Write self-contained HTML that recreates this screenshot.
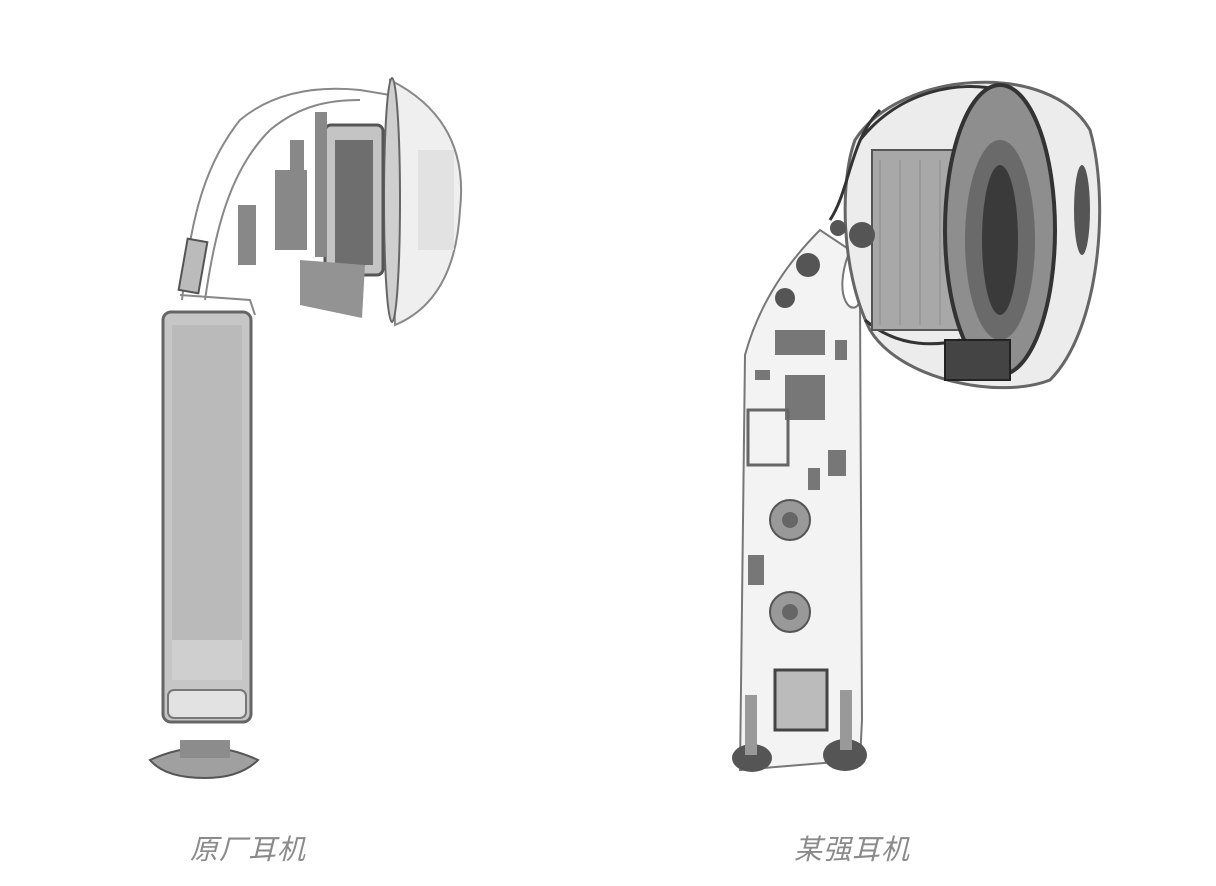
<!DOCTYPE html>
<html><head><meta charset="utf-8"><style>
html,body{margin:0;padding:0;background:#fff;width:1216px;height:886px;overflow:hidden}
.lbl{position:absolute;top:828px;font-family:"Liberation Sans","Noto Sans CJK SC",sans-serif;font-style:italic;font-size:28px;color:#8a8a8a;letter-spacing:1px}
</style></head><body>
<svg width="1216" height="886" style="position:absolute;left:0;top:0">
<!-- LEFT EARBUD -->
<g stroke="#888" fill="none" stroke-width="2">
<path d="M182 300 C190 230 200 170 240 120 C270 95 310 85 360 90 L390 95" />
<path d="M205 300 C215 230 230 170 270 130 C300 105 330 100 360 100" />
<path d="M180 295 L250 300 L255 315" />
</g>
<rect x="163" y="312" width="88" height="410" rx="8" fill="#c6c6c6" stroke="#666" stroke-width="3"/>
<rect x="172" y="325" width="70" height="350" fill="#bababa"/>
<rect x="172" y="640" width="70" height="40" fill="#cfcfcf"/>
<rect x="168" y="690" width="78" height="28" rx="6" fill="#e2e2e2" stroke="#777" stroke-width="2"/>
<path d="M150 760 Q205 735 258 760 Q240 778 205 778 Q165 778 150 760Z" fill="#a0a0a0" stroke="#555" stroke-width="2"/>
<rect x="180" y="740" width="50" height="18" fill="#8c8c8c"/>
<rect x="183" y="240" width="20" height="52" fill="#bbb" stroke="#555" stroke-width="2" transform="rotate(10 193 266)"/>
<!-- head left -->
<path d="M390 80 Q470 120 460 210 Q455 300 395 325 Z" fill="#efefef" stroke="#888" stroke-width="2"/>
<ellipse cx="392" cy="200" rx="8" ry="122" fill="#cfcfcf" stroke="#666" stroke-width="2"/>
<rect x="325" y="125" width="58" height="150" rx="6" fill="#c4c4c4" stroke="#555" stroke-width="3"/>
<rect x="335" y="140" width="38" height="125" fill="#6e6e6e"/>
<path d="M300 260 L365 265 L362 318 L300 305Z" fill="#939393"/>
<g fill="#888">
<rect x="275" y="170" width="32" height="80"/>
<rect x="315" y="112" width="12" height="145"/>
<rect x="238" y="205" width="18" height="60"/>
<rect x="290" y="140" width="14" height="30"/>
</g>
<rect x="418" y="150" width="36" height="100" fill="#e2e2e2"/>
<!-- RIGHT EARBUD -->
<path d="M745 355 C760 300 790 260 820 230 L850 250 C830 300 855 320 860 300 L862 720 L860 760 L740 770 Z" fill="#f3f3f3" stroke="#777" stroke-width="2"/>
<path d="M855 140 C900 70 1050 60 1090 130 C1110 200 1100 330 1050 380 C1000 400 900 380 870 330 C840 270 840 180 855 140Z" fill="#ececec" stroke="#666" stroke-width="3"/>
<g stroke="#333" fill="none" stroke-width="3">
<path d="M860 140 C900 90 960 80 1000 90"/>
<path d="M830 220 C850 190 850 140 880 110"/>
<path d="M865 320 C900 350 940 345 960 340"/>
</g>
<rect x="872" y="150" width="100" height="180" fill="#a8a8a8" stroke="#555" stroke-width="2"/>
<g stroke="#8a8a8a" stroke-width="1"><line x1="880" y1="160" x2="880" y2="325"/><line x1="900" y1="160" x2="900" y2="325"/><line x1="920" y1="160" x2="920" y2="325"/><line x1="940" y1="160" x2="940" y2="325"/><line x1="960" y1="160" x2="960" y2="325"/></g>
<ellipse cx="1000" cy="230" rx="55" ry="145" fill="#8e8e8e" stroke="#333" stroke-width="4"/>
<ellipse cx="1000" cy="240" rx="35" ry="100" fill="#6a6a6a"/>
<ellipse cx="1000" cy="240" rx="18" ry="75" fill="#3a3a3a"/>
<rect x="945" y="340" width="65" height="40" fill="#444" stroke="#222" stroke-width="2"/>
<ellipse cx="1082" cy="210" rx="8" ry="45" fill="#555"/>
<g fill="#555"><circle cx="808" cy="265" r="12"/><circle cx="785" cy="298" r="10"/><circle cx="862" cy="235" r="13"/><circle cx="838" cy="228" r="8"/></g>
<g fill="#777">
<rect x="775" y="330" width="50" height="25"/>
<rect x="785" y="375" width="40" height="45"/>
<rect x="748" y="410" width="40" height="55" fill="none" stroke="#666" stroke-width="3"/>
<rect x="808" y="468" width="12" height="22"/>
<rect x="828" y="450" width="18" height="26"/>
<rect x="748" y="555" width="16" height="30"/>
<rect x="835" y="340" width="12" height="20"/>
<rect x="755" y="370" width="15" height="10"/>
</g>
<circle cx="790" cy="520" r="20" fill="#999" stroke="#555" stroke-width="2"/><circle cx="790" cy="520" r="8" fill="#666"/>
<circle cx="790" cy="612" r="20" fill="#999" stroke="#555" stroke-width="2"/><circle cx="790" cy="612" r="8" fill="#666"/>
<rect x="775" y="670" width="52" height="60" fill="#bbb" stroke="#444" stroke-width="3"/>
<g fill="#555"><ellipse cx="752" cy="758" rx="20" ry="14"/><ellipse cx="845" cy="755" rx="22" ry="16"/></g>
<rect x="745" y="695" width="12" height="60" fill="#999"/><rect x="840" y="690" width="12" height="60" fill="#999"/>
</svg>
<div class="lbl" style="left:190px">原厂耳机</div>
<div class="lbl" style="left:794px">某强耳机</div>
</body></html>
